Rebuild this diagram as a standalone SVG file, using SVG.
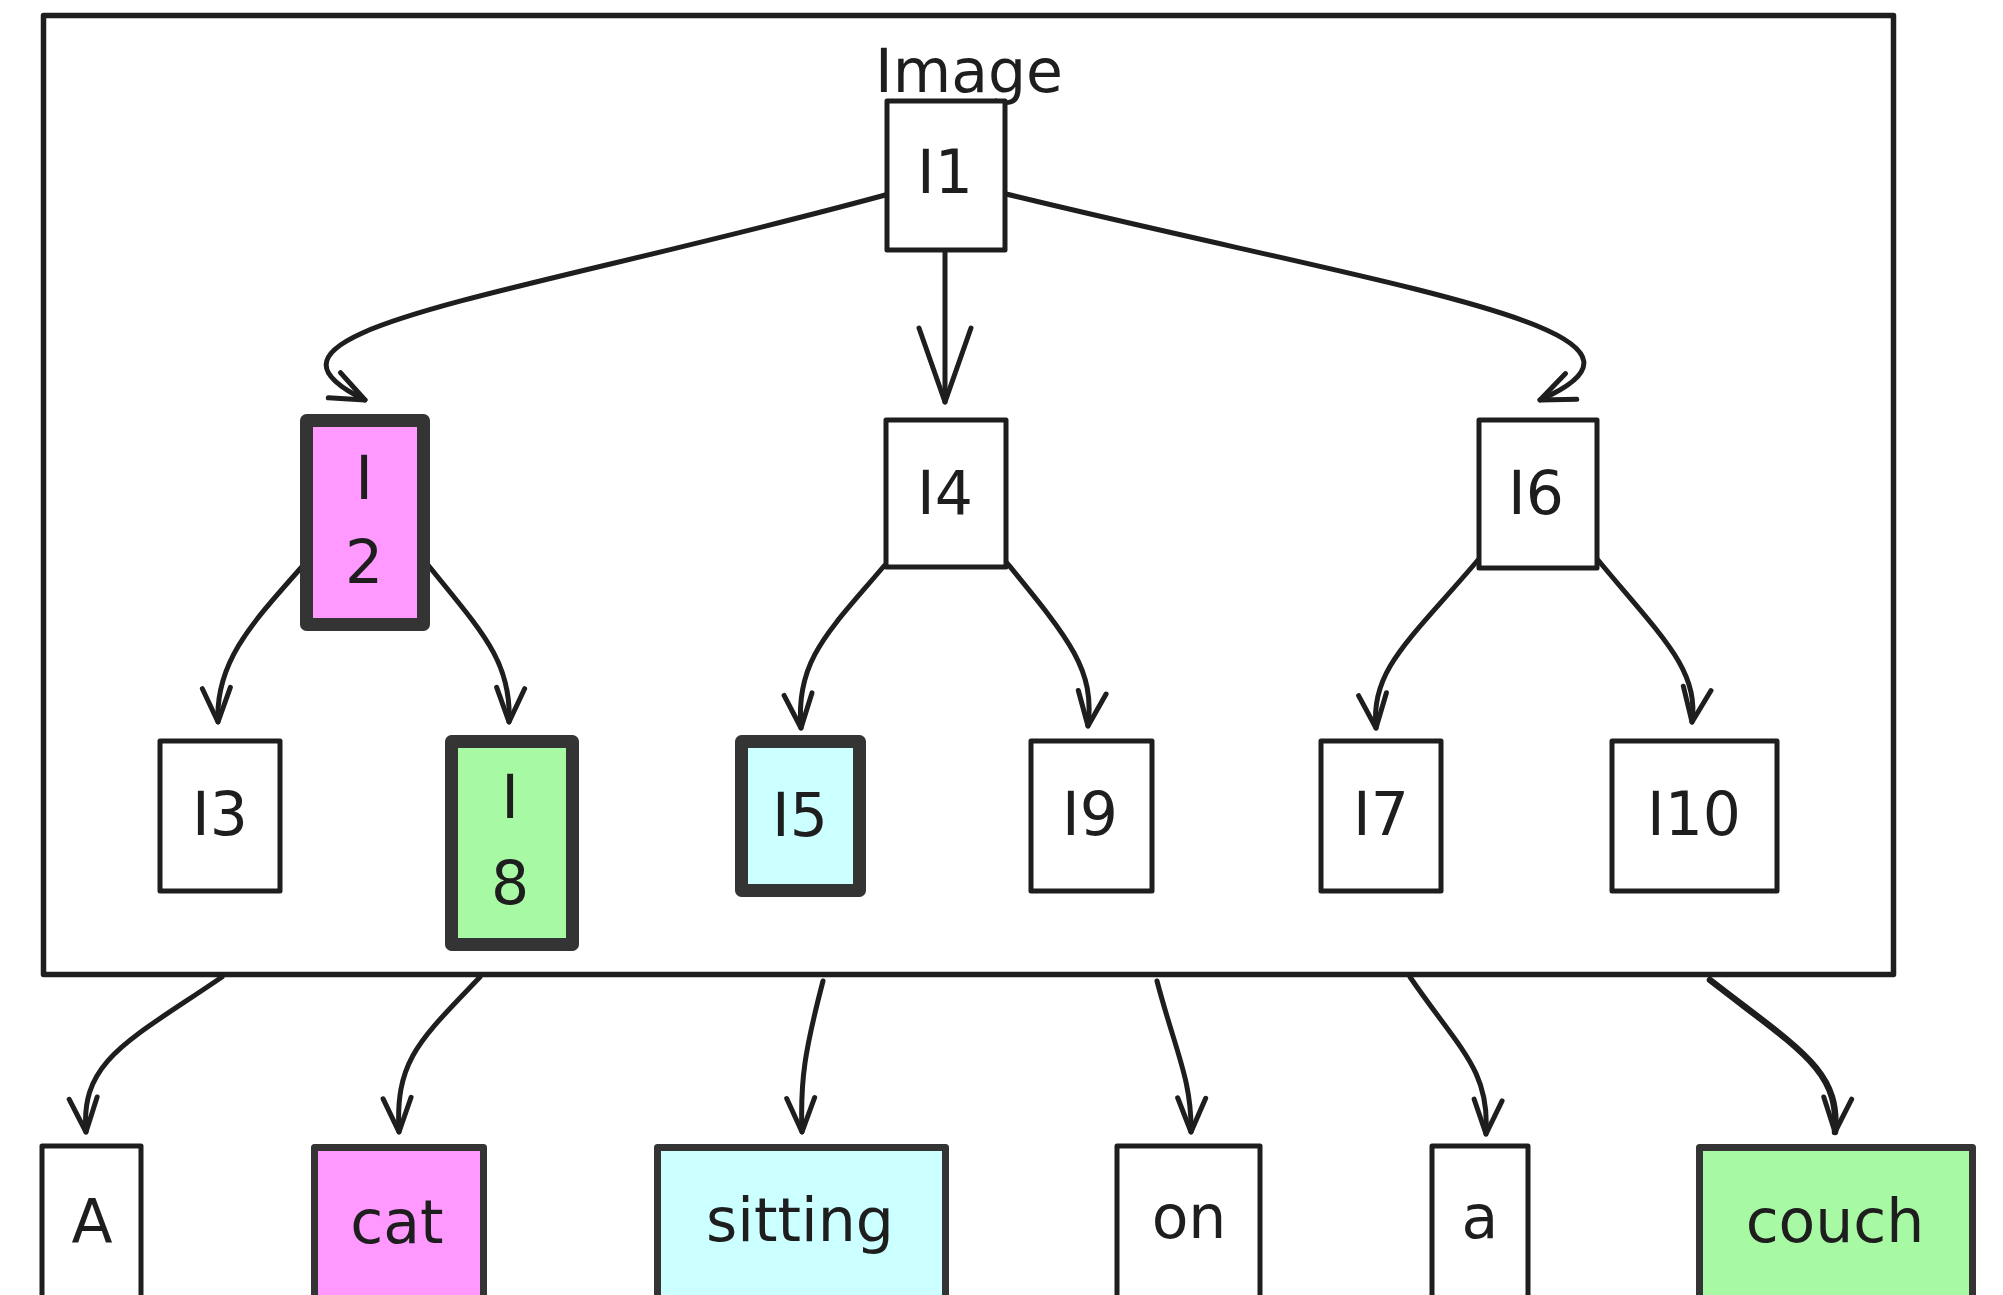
<svg xmlns="http://www.w3.org/2000/svg" width="2003" height="1295" viewBox="0 0 2003 1295">
<style>
.bg{fill:#ffffff}
.frame{fill:none;stroke:#1e1e1e;stroke-width:5.5;stroke-linejoin:round}
.n{fill:#ffffff;stroke:#1e1e1e;stroke-width:5;stroke-linejoin:round}
.hk{stroke:#343434;stroke-width:13;stroke-linejoin:round}
.wk{stroke:#343434;stroke-width:7;stroke-linejoin:round}
.pink{fill:#ff99ff}
.green{fill:#a8f9a4}
.cyan{fill:#ccffff}
.t{font-family:"DejaVu Sans","Liberation Sans",sans-serif;font-size:60px;fill:#1e1e1e;text-anchor:middle}
.c{fill:none;stroke:#1e1e1e;stroke-width:5;stroke-linecap:round;stroke-linejoin:round}
.ah{fill:none;stroke:#1e1e1e;stroke-width:5;stroke-linecap:round;stroke-linejoin:round}
</style>
<defs>
<marker id="arr" markerUnits="userSpaceOnUse" viewBox="-40 -20 44 40" refX="0" refY="0" markerWidth="44" markerHeight="40" orient="auto" overflow="visible">
<path class="ah" d="M -34 -14 L 0 0 L -34 14"/>
</marker>
<marker id="arrL" markerUnits="userSpaceOnUse" viewBox="-80 -30 84 60" refX="0" refY="0" markerWidth="84" markerHeight="60" orient="auto" overflow="visible">
<path class="ah" d="M -74 -26 L 0 0 L -74 26"/>
</marker>
</defs>
<rect class="bg" x="0" y="0" width="2003" height="1295"/>

<g id="frame-image">
<rect class="frame" x="43.5" y="15.5" width="1850" height="959"/>
<text class="t" x="969" y="92">Image</text>
</g>

<g id="connectors">
<path class="c" d="M 889 194 C 500 300, 220 330, 365 400" marker-end="url(#arr)"/>
<path class="c" d="M 945 252 L 945 402" marker-end="url(#arrL)"/>
<path class="c" d="M 1006 194 C 1400 290, 1700 330, 1540 400" marker-end="url(#arr)"/>
<path class="c" d="M 307 561 C 255 620, 215 660, 218 722" marker-end="url(#arr)"/>
<path class="c" d="M 424 560 C 480 630, 512 660, 509 722" marker-end="url(#arr)"/>
<path class="c" d="M 884 566 C 830 630, 795 660, 801 728" marker-end="url(#arr)"/>
<path class="c" d="M 1007 563 C 1070 640, 1095 670, 1088 726" marker-end="url(#arr)"/>
<path class="c" d="M 1478 560 C 1410 640, 1370 670, 1376 728" marker-end="url(#arr)"/>
<path class="c" d="M 1598 560 C 1660 635, 1700 670, 1692 722" marker-end="url(#arr)"/>
<path class="c" d="M 222 977 C 130 1040, 80 1060, 86 1132" marker-end="url(#arr)"/>
<path class="c" d="M 480 977 C 420 1040, 395 1060, 399 1132" marker-end="url(#arr)"/>
<path class="c" d="M 823 981 C 805 1050, 800 1080, 802 1132" marker-end="url(#arr)"/>
<path class="c" d="M 1157 981 C 1175 1050, 1192 1080, 1191 1132" marker-end="url(#arr)"/>
<path class="c" d="M 1410 977 C 1460 1050, 1490 1070, 1486 1134" marker-end="url(#arr)"/>
<path class="c" d="M 1710 980 C 1800 1050, 1840 1070, 1835 1132" marker-end="url(#arr)" style="stroke-width:6.5"/>
</g>

<g id="node-I1">
<rect class="n" x="887" y="101" width="118" height="149"/>
<text class="t" x="945" y="193">I1</text>
</g>
<g id="node-I2">
<rect class="n hk pink" x="306.5" y="420.5" width="117" height="204"/>
<text class="t" x="364" y="499">I</text>
<text class="t" x="364" y="583">2</text>
</g>
<g id="node-I4">
<rect class="n" x="886" y="420" width="120" height="147"/>
<text class="t" x="945" y="514">I4</text>
</g>
<g id="node-I6">
<rect class="n" x="1479" y="420" width="118" height="148"/>
<text class="t" x="1536" y="514">I6</text>
</g>
<g id="node-I3">
<rect class="n" x="160" y="741" width="120" height="150"/>
<text class="t" x="220" y="835">I3</text>
</g>
<g id="node-I8">
<rect class="n hk green" x="451.5" y="741.5" width="121" height="203"/>
<text class="t" x="510" y="818">I</text>
<text class="t" x="510" y="904">8</text>
</g>
<g id="node-I5">
<rect class="n hk cyan" x="741.5" y="741.5" width="118" height="149"/>
<text class="t" x="800" y="836">I5</text>
</g>
<g id="node-I9">
<rect class="n" x="1031" y="741" width="121" height="150"/>
<text class="t" x="1090" y="835">I9</text>
</g>
<g id="node-I7">
<rect class="n" x="1321" y="741" width="120" height="150"/>
<text class="t" x="1381" y="835">I7</text>
</g>
<g id="node-I10">
<rect class="n" x="1612" y="741" width="165" height="150"/>
<text class="t" x="1694" y="835">I10</text>
</g>

<g id="node-A">
<rect class="n" x="42" y="1146" width="99" height="200"/>
<text class="t" x="92" y="1242">A</text>
</g>
<g id="node-cat">
<rect class="n wk pink" x="314.5" y="1147.5" width="169" height="200"/>
<text class="t" x="397" y="1243">cat</text>
</g>
<g id="node-sitting">
<rect class="n wk cyan" x="657.5" y="1147.5" width="288" height="200"/>
<text class="t" x="800" y="1241">sitting</text>
</g>
<g id="node-on">
<rect class="n" x="1117" y="1146" width="143" height="200"/>
<text class="t" x="1189" y="1238">on</text>
</g>
<g id="node-a">
<rect class="n" x="1432" y="1146" width="96" height="200"/>
<text class="t" x="1480" y="1238">a</text>
</g>
<g id="node-couch">
<rect class="n wk green" x="1699.5" y="1147.5" width="273" height="200"/>
<text class="t" x="1835" y="1242">couch</text>
</g>
</svg>
